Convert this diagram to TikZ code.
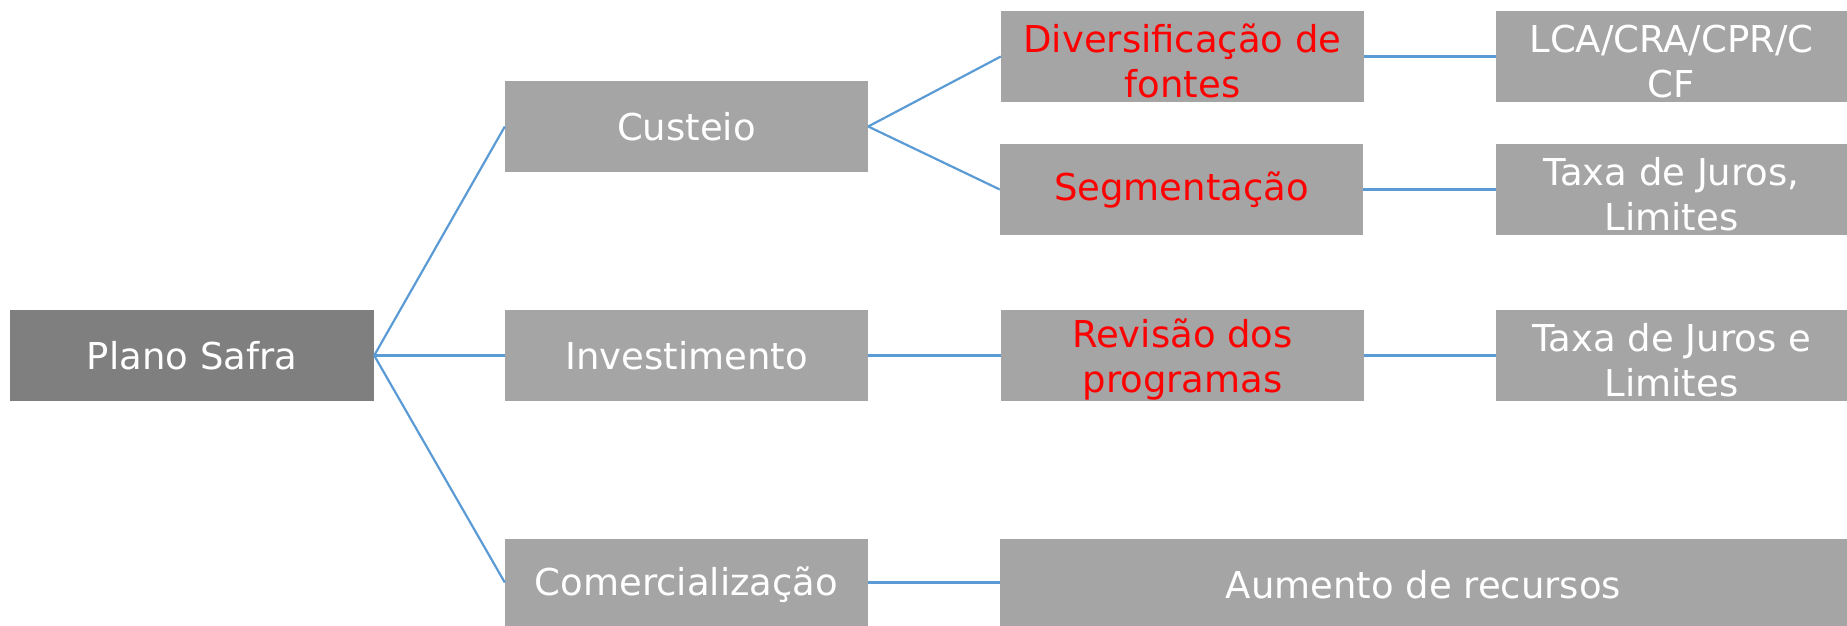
\documentclass[tikz,border=0pt]{standalone}
\usepackage{fontspec}
\setmainfont{DejaVu Sans}
\definecolor{boxgray}{HTML}{A5A5A5}
\definecolor{darkgray}{HTML}{7F7F7F}
\definecolor{linkblue}{HTML}{5B9BD5}
\definecolor{txtred}{HTML}{FF0000}
\newcommand\upstrut{\rule{0pt}{37pt}}
\tikzset{
  box/.style={fill=boxgray, draw=none, inner sep=0pt, minimum height=91pt, align=center,
    text=white, font=\fontsize{37}{45}\selectfont},
  wide/.style={box, minimum width=363pt},
  narrow/.style={box, minimum width=351pt},
  rootbox/.style={box, fill=darkgray, minimum width=364pt},
  redtxt/.style={text=txtred},
  link/.style={draw=linkblue, line width=2.2pt}
}
\begin{document}
\begin{tikzpicture}[x=1pt,y=-1pt]
\useasboundingbox (0,0) rectangle (1847,626);
\clip (0,0) rectangle (1847,626);
\node[rootbox] (plano) at (192,355.5) {Plano Safra};
\node[wide] (custeio) at (686.5,126.5) {Custeio};
\node[wide] (invest) at (686.5,355.5) {Investimento};
\node[wide] (comerc) at (686.5,584.5) {Comercialização};
\node[wide, redtxt] (divers) at (1182.5,56.5) {\upstrut Diversificação de\\fontes};
\node[wide, redtxt] (segm) at (1181.5,189.5) {Segmentação};
\node[wide, redtxt] (revisao) at (1182.5,355.5) {\upstrut Revisão dos\\programas};
\node[narrow] (lca) at (1671.5,56.5) {\upstrut LCA/CRA/CPR/C\\CF};
\node[narrow] (taxa1) at (1671.5,189.5) {\upstrut Taxa de Juros,\\Limites};
\node[narrow] (taxa2) at (1671.5,355.5) {\upstrut Taxa de Juros e\\Limites};
\node[box, minimum width=847pt] (aumento) at (1423.5,584.5) {Aumento de recursos};
\coordinate (comercin) at ([yshift=2pt]comerc.west);
\coordinate (comercout) at ([yshift=2pt]comerc.east);
\coordinate (aumentoin) at ([yshift=2pt]aumento.west);
\draw[link] (plano.east) -- (custeio.west);
\draw[link] (plano.east) -- (invest.west);
\draw[link] (plano.east) -- (comercin);
\draw[link] (custeio.east) -- (divers.west);
\draw[link] (custeio.east) -- (segm.west);
\draw[link] (divers.east) -- (lca.west);
\draw[link] (segm.east) -- (taxa1.west);
\draw[link] (invest.east) -- (revisao.west);
\draw[link] (revisao.east) -- (taxa2.west);
\draw[link] (comercout) -- (aumentoin);
\end{tikzpicture}
\end{document}
